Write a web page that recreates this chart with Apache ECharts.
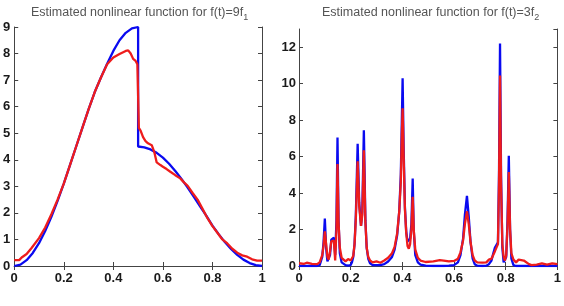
<!DOCTYPE html>
<html>
<head>
<meta charset="utf-8">
<script src="https://cdn.jsdelivr.net/npm/echarts@6/dist/echarts.min.js"></script>
<style>
  html, body { margin: 0; padding: 0; background: #fff; }
  #main { width: 564px; height: 306px; }
</style>
</head>
<body>
<div id="main"></div>
<script>
// ---- left panel: f(t)=9f1 ----
var leftBlueX = [0, 0.025, 0.05, 0.075, 0.1, 0.125, 0.15, 0.175, 0.2, 0.225, 0.25, 0.275, 0.3, 0.325, 0.35, 0.375,
  0.4, 0.425, 0.45, 0.475, 0.5, 0.5, 0.525, 0.55, 0.575, 0.6, 0.625, 0.65, 0.675, 0.7, 0.725, 0.75, 0.775,
  0.8, 0.825, 0.85, 0.875, 0.9, 0.925, 0.95, 0.975, 1];
var leftBlueY = [0, 0.05, 0.22, 0.49, 0.86, 1.32, 1.85, 2.45, 3.1, 3.8, 4.5, 5.2, 5.9, 6.55, 7.1, 7.62,
  8.1, 8.5, 8.78, 8.95, 9.0, 4.5, 4.47, 4.39, 4.26, 4.08, 3.85, 3.58, 3.28, 2.95, 2.6, 2.25, 1.9,
  1.52, 1.2, 0.9, 0.64, 0.42, 0.24, 0.11, 0.03, 0];

var leftRedX = [0, 0.01, 0.02, 0.03, 0.05, 0.07, 0.1, 0.125, 0.15, 0.175, 0.2, 0.225, 0.25, 0.275, 0.3, 0.325,
  0.35, 0.375, 0.4, 0.425, 0.45, 0.46, 0.47, 0.48, 0.49, 0.497, 0.503, 0.51, 0.52, 0.53, 0.54, 0.555,
  0.565, 0.575, 0.59, 0.6, 0.615, 0.63, 0.65, 0.67, 0.685, 0.7, 0.72, 0.74, 0.76, 0.78, 0.8, 0.82, 0.84,
  0.86, 0.88, 0.9, 0.92, 0.94, 0.96, 0.98, 1];
var leftRedY = [0.22, 0.22, 0.22, 0.32, 0.45, 0.68, 1.05, 1.45, 1.95, 2.5, 3.1, 3.8, 4.5, 5.2, 5.9, 6.55,
  7.1, 7.6, 7.85, 7.98, 8.1, 8.12, 8.0, 7.8, 7.72, 7.6, 5.2, 5.1, 4.85, 4.7, 4.62, 4.55,
  4.3, 3.9, 3.8, 3.74, 3.65, 3.55, 3.42, 3.3, 3.15, 3.02, 2.75, 2.5, 2.15, 1.8, 1.5, 1.25, 1.0,
  0.85, 0.65, 0.5, 0.4, 0.35, 0.25, 0.2, 0.2];

// ---- right panel: f(t)=3f2 ----
var rightX = [0, 0.02, 0.03, 0.05, 0.07, 0.08, 0.09, 0.095, 0.1, 0.105, 0.11, 0.115, 0.12, 0.125, 0.13, 0.135,
  0.14, 0.145, 0.149, 0.153, 0.158, 0.165, 0.17, 0.18, 0.19, 0.2, 0.205, 0.21, 0.215, 0.22, 0.227, 0.233,
  0.24, 0.245, 0.251, 0.257, 0.262, 0.268, 0.275, 0.285, 0.3, 0.315, 0.33, 0.345, 0.36, 0.37, 0.38, 0.388,
  0.394, 0.398, 0.401, 0.405, 0.41, 0.415, 0.42, 0.425, 0.43, 0.435, 0.44, 0.444, 0.45, 0.46, 0.47, 0.49,
  0.52, 0.545, 0.56, 0.58, 0.6, 0.615, 0.625, 0.635, 0.642, 0.65, 0.657, 0.664, 0.672, 0.68, 0.69, 0.71,
  0.725, 0.735, 0.745, 0.752, 0.758, 0.765, 0.77, 0.774, 0.778, 0.782, 0.787, 0.792, 0.797, 0.802, 0.807,
  0.812, 0.817, 0.822, 0.83, 0.84, 0.85, 0.87, 0.89, 0.9, 0.92, 0.94, 0.96, 0.98, 1];
var rightBlue = [0, 0, 0, 0, 0, 0.05, 0.5, 1.3, 2.6, 1.0, 0.25, 0.15, 0.6, 1.45, 1.55, 1.55,
  0.6, 2.5, 7.05, 2.5, 0.7, 0.2, 0.1, 0.05, 0.02, 0.05, 0.2, 0.5, 1.2, 2.8, 6.7, 3.5,
  2.2, 3.0, 7.45, 2.5, 1.0, 0.4, 0.15, 0.05, 0.05, 0.05, 0.1, 0.25, 0.5, 0.9, 1.7, 3.0,
  5.0, 8.0, 10.3, 6.5, 3.2, 1.9, 1.35, 1.3, 1.5, 2.3, 4.8, 2.0, 0.6, 0.2, 0.08, 0.02,
  0, 0, 0, 0.02, 0.05, 0.2, 0.6, 1.5, 2.8, 3.85, 2.7, 1.3, 0.4, 0.1, 0.02, 0,
  0.02, 0.1, 0.3, 0.7, 1.0, 1.1, 1.3, 5.0, 12.2, 5.0, 1.0, 0.2, 0.1, 0.5, 2.5,
  6.05, 2.0, 0.4, 0.05, 0, 0, 0, 0, 0, 0, 0, 0, 0, 0];
var rightRed = [0.15, 0.12, 0.18, 0.12, 0.1, 0.2, 0.6, 1.1, 1.9, 1.2, 0.5, 0.35, 0.8, 1.35, 1.45, 1.4,
  0.3, 2.0, 5.6, 2.4, 1.0, 0.45, 0.35, 0.25, 0.38, 0.3, 0.3, 0.55, 1.2, 2.6, 5.75, 3.3,
  2.2, 2.8, 6.35, 2.4, 1.0, 0.5, 0.3, 0.2, 0.25, 0.18, 0.3, 0.45, 0.7, 1.05, 1.8, 3.0,
  4.6, 7.2, 8.65, 6.0, 3.1, 1.8, 1.1, 0.95, 1.2, 2.0, 3.8, 2.0, 0.9, 0.45, 0.3, 0.22,
  0.25, 0.32, 0.3, 0.25, 0.28, 0.4, 0.75, 1.4, 2.3, 3.0, 2.3, 1.3, 0.6, 0.3, 0.2, 0.18,
  0.2, 0.35, 0.4, 0.5, 0.8, 0.85, 1.2, 4.5, 10.45, 4.5, 1.2, 0.5, 0.3, 0.6, 2.2,
  5.15, 2.0, 0.7, 0.35, 0.2, 0.35, 0.3, 0.1, 0.05, 0.08, 0.15, 0.08, 0.15, 0.1];

function pairs(xs, ys) {
  var out = [];
  for (var i = 0; i < xs.length; i++) out.push([xs[i], ys[i]]);
  return out;
}

var BLUE = '#0a0af0';
var RED = '#ee1c1c';
var FRAME = '#444';
var labelFont = { fontFamily: 'Liberation Sans, Arial, sans-serif', fontWeight: 'bold', fontSize: 13, color: '#1a1a1a' };

function xAx(grid, pos, labels) {
  return {
    type: 'value', gridIndex: grid, position: pos, min: 0, max: 1, interval: 0.2,
    axisLine: { show: true, lineStyle: { color: FRAME, width: 1 } },
    axisTick: { show: true, inside: true, length: 4, lineStyle: { color: FRAME } },
    axisLabel: Object.assign({ show: labels, margin: 6 }, labelFont),
    splitLine: { show: false }
  };
}
function yAx(grid, pos, max, interval, labels, margin) {
  return {
    type: 'value', gridIndex: grid, position: pos, min: 0, max: max, interval: interval,
    axisLine: { show: true, onZero: false, lineStyle: { color: FRAME, width: 1 } },
    axisTick: { show: true, inside: true, length: 4, lineStyle: { color: FRAME } },
    axisLabel: Object.assign({ show: labels, margin: margin, showMaxLabel: max % interval === 0 }, labelFont),
    splitLine: { show: false }
  };
}

var titleRich = {
  m: { fontSize: 12.5, fontWeight: 'normal', color: '#555', fontFamily: 'Liberation Sans, Arial, sans-serif' },
  s: { fontSize: 9, fontWeight: 'normal', color: '#555', fontFamily: 'Liberation Sans, Arial, sans-serif', verticalAlign: 'bottom', padding: [9, 0, 0, 0] }
};

var chart = echarts.init(document.getElementById('main'), null, { renderer: 'canvas' });
chart.setOption({
  animation: false,
  backgroundColor: '#fff',
  title: [
    { text: '{m|Estimated nonlinear function for f(t)=9f}{s|1}', left: 26, top: -1, textStyle: { fontWeight: 'normal', rich: titleRich } },
    { text: '{m|Estimated nonlinear function for f(t)=3f}{s|2}', left: 317, top: -1, textStyle: { fontWeight: 'normal', rich: titleRich } }
  ],
  grid: [
    { left: 14, right: 302, top: 27, bottom: 40 },
    { left: 299, right: 4, top: 29, bottom: 40 }
  ],
  xAxis: [
    xAx(0, 'bottom', true), xAx(0, 'top', false),
    xAx(1, 'bottom', true), xAx(1, 'top', false)
  ],
  yAxis: [
    yAx(0, 'left', 9, 1, true, 4), yAx(0, 'right', 9, 1, false, 4),
    yAx(1, 'left', 13, 2, true, 3), yAx(1, 'right', 13, 2, false, 3)
  ],
  series: [
    { type: 'line', xAxisIndex: 0, yAxisIndex: 0, data: pairs(leftBlueX, leftBlueY), showSymbol: false,
      lineStyle: { color: BLUE, width: 2.3 }, z: 2 },
    { type: 'line', xAxisIndex: 0, yAxisIndex: 0, data: pairs(leftRedX, leftRedY), showSymbol: false,
      lineStyle: { color: RED, width: 2.3 }, z: 3 },
    { type: 'line', xAxisIndex: 2, yAxisIndex: 2, data: pairs(rightX, rightBlue), showSymbol: false,
      lineStyle: { color: BLUE, width: 2.3 }, z: 2 },
    { type: 'line', xAxisIndex: 2, yAxisIndex: 2, data: pairs(rightX, rightRed), showSymbol: false,
      lineStyle: { color: RED, width: 2.3 }, z: 3 }
  ]
});
</script>
</body>
</html>
